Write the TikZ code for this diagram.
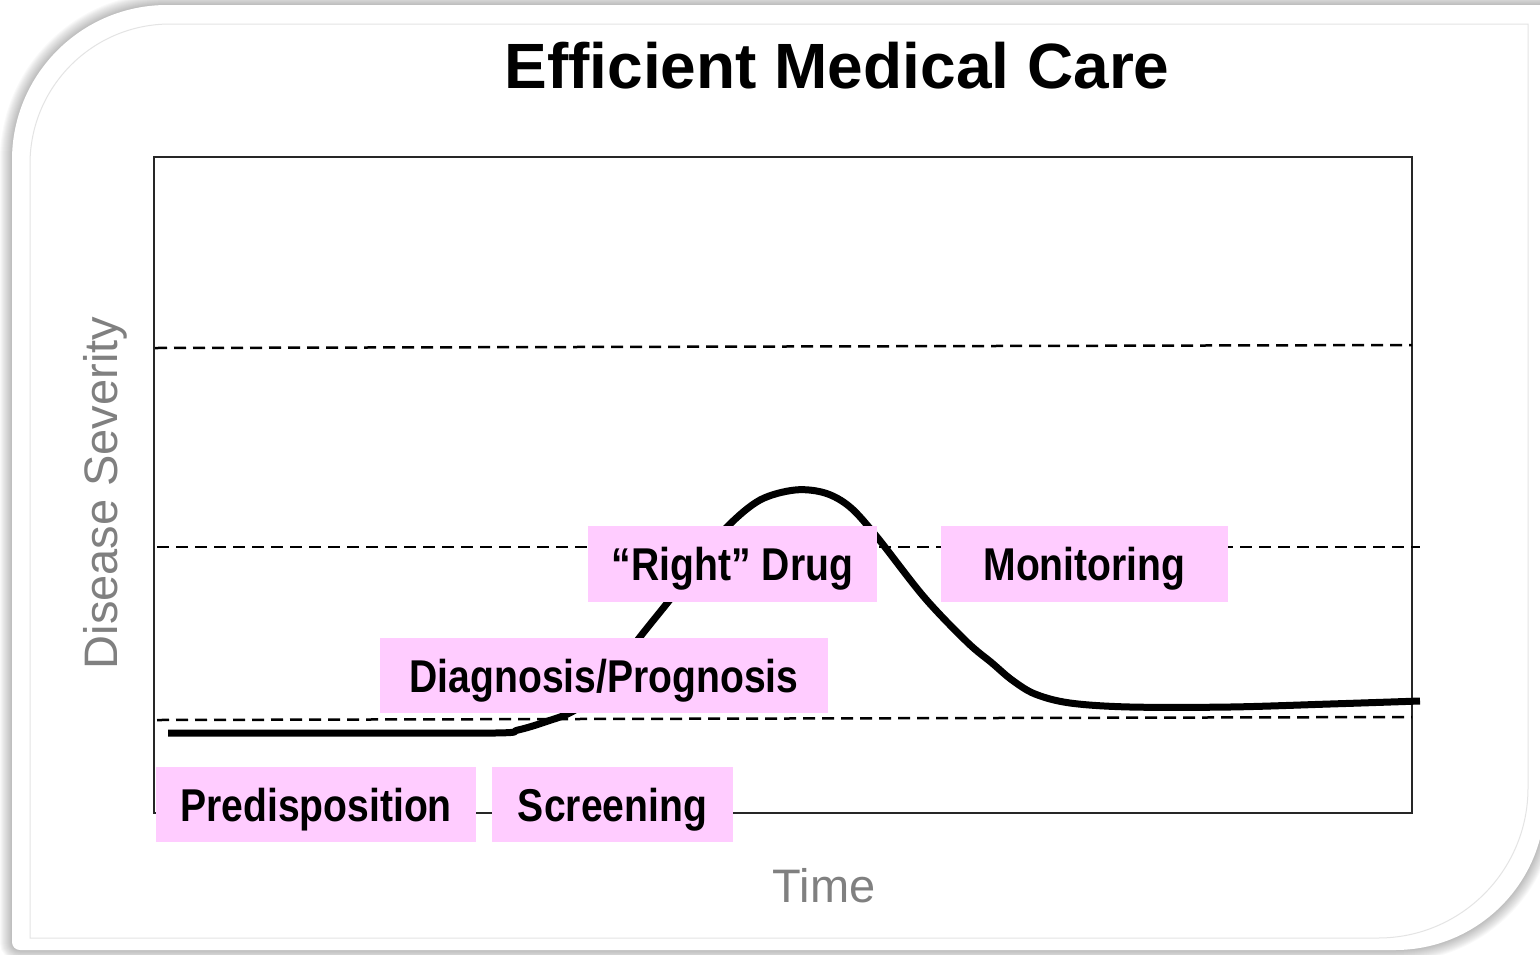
\documentclass[tikz,border=0pt]{standalone}
\usepackage{fontspec}
\setmainfont{Liberation Sans}
\newfontfamily\narrowfont[FakeStretch=0.85]{Liberation Sans}
\definecolor{labelpink}{RGB}{255,204,255}
\definecolor{axisgray}{RGB}{128,128,128}
\definecolor{rimgray}{RGB}{228,228,228}
\begin{document}
\begin{tikzpicture}[x=1pt,y=-1pt,
  stage/.style={fill=labelpink, inner sep=0pt, text height=33pt, text depth=0pt,
    font={\narrowfont\bfseries\fontsize{46pt}{55pt}\selectfont}},
  level/.style={line width=2.5pt, dash pattern=on 12pt off 7pt, black},
  axislabel/.style={text=axisgray, font={\fontsize{47pt}{56pt}\selectfont}},
  curve/.style={line width=7pt, line join=round, black}]
\useasboundingbox (0,0) rectangle (1540,954);

% soft shadow around the card
\foreach \w in {2,4,...,24}{
  \draw[line width=\w pt, black, opacity=0.022]
    (12,942) -- (12,160) arc[start angle=180,end angle=270,radius=155]
    -- (1545,5) -- (1545,800) arc[start angle=0,end angle=90,radius=150]
    -- (20,950) arc[start angle=90,end angle=180,radius=8] -- cycle;
}
% the card itself
\fill[white]
  (12,942) -- (12,160) arc[start angle=180,end angle=270,radius=155]
  -- (1545,5) -- (1545,800) arc[start angle=0,end angle=90,radius=150]
  -- (20,950) arc[start angle=90,end angle=180,radius=8] -- cycle;
% thin inner rim
\draw[rimgray, line width=1pt]
  (30,938) -- (30,164) arc[start angle=180,end angle=270,radius=140]
  -- (1528,24) -- (1528,788) arc[start angle=0,end angle=90,radius=150] -- cycle;

% title
\node[anchor=base, font={\bfseries\fontsize{64pt}{77pt}\selectfont}] (title) at (837,88) {Efficient Medical Care};

% plot frame
\draw[line width=2pt, black!85] (154,157) rectangle (1412,813);

% severity levels
\draw[level] (155,348) -- (1412,345);
\draw[level] (157,547) -- (1420,547);
\draw[level] (157,720) -- (1412,717);

% disease course
\draw[curve] plot[smooth, tension=0.55] coordinates {
  (168,733) (330,733) (495,733) (518,730) (545,722) (575,710) (605,683)
  (640,637) (672,597) (700,560) (728,526) (760,500) (795,490) (825,493)
  (850,507) (877,537) (924,597) (967,642) (992,663) (1012,680) (1035,694)
  (1070,703) (1130,707) (1230,707) (1330,704) (1420,701)};

% axis labels
\node[axislabel, rotate=90, anchor=base] (yaxis) at (117,493) {Disease Severity};
\node[axislabel, anchor=base] (xaxis) at (824,902) {Time};

% care stages
\node[stage, minimum width=320pt, minimum height=75pt] (pre) at (316,804.5) {Predisposition};
\node[stage, minimum width=241pt, minimum height=75pt] (scr) at (612.5,804.5) {Screening};
\node[stage, minimum width=448pt, minimum height=75pt] (diag) at (604,675.5) {Diagnosis/Prognosis};
\node[stage, minimum width=289pt, minimum height=76pt] (drug) at (732.5,564) {“Right” Drug};
\node[stage, minimum width=287pt, minimum height=76pt] (mon) at (1084.5,564) {Monitoring};
\end{tikzpicture}
\end{document}
